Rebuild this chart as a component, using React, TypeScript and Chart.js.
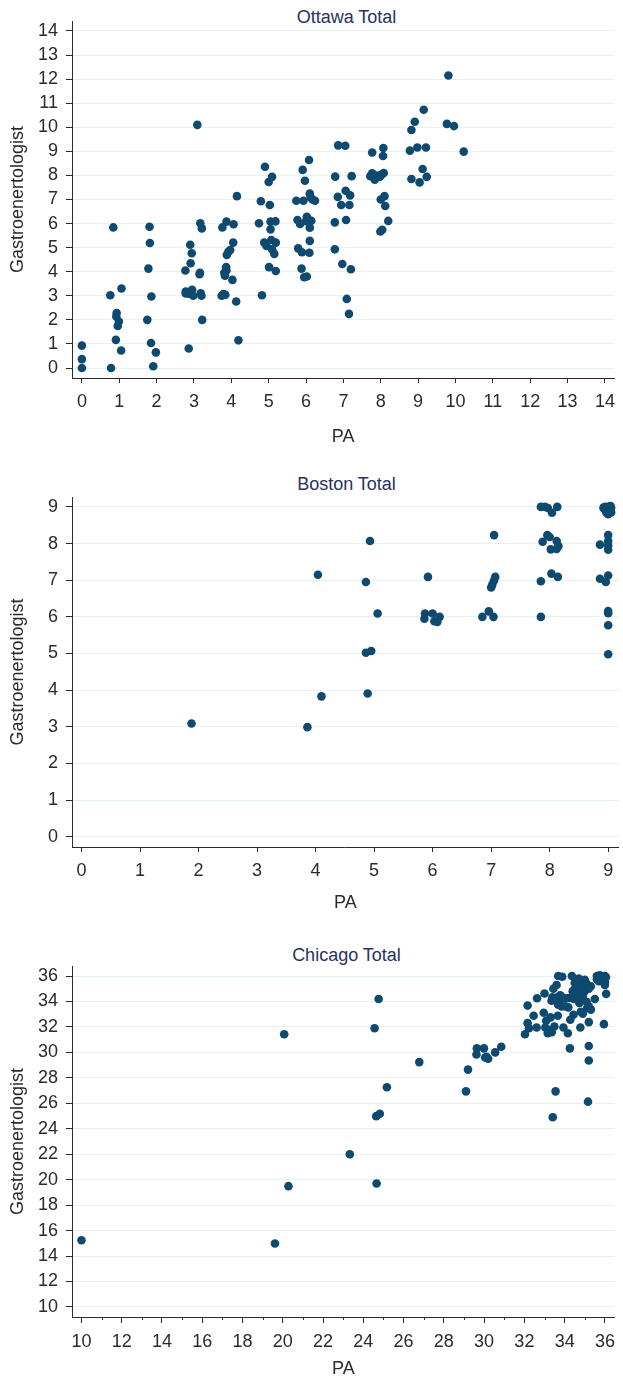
import React, { useEffect, useRef } from 'react';
import { Chart, registerables } from 'chart.js';

Chart.register(...registerables);

// ---------- DATA ----------
const ottawaPA = [
  0, 0, 0,
  0.78, 0.91, 1.05, 0.76, 0.84, 1.06, 0.93, 0.92, 0.99, 0.96,
  1.81, 1.82, 1.78, 1.86, 1.75, 1.85, 1.98, 1.91,
  2.9, 2.94, 2.91, 2.77, 3.16, 3.15, 2.78, 2.78, 2.86, 2.95, 2.98, 3.18, 3.2, 2.86, 3.22, 3.17, 3.21, 3.09,
  3.87, 3.76, 4.06, 4.05, 3.97, 3.92, 3.88, 3.86, 3.87, 3.81, 3.83, 4.03, 3.74, 3.79, 3.84, 4.13, 4.15, 4.19,
  4.82, 4.74, 4.79, 5.03, 5.0, 5.05, 5.18, 5.05, 4.88, 4.94, 5.07, 5.19, 5.09, 5.15, 5.01, 5.19, 4.9, 5.09,
  5.74, 5.93, 5.97, 5.77, 5.84, 6.02, 6.06, 6.1, 6.1, 5.79, 5.89, 6.09, 5.88, 5.95, 6.02, 6.1, 6.17, 6.24, 5.91, 6.08, 6.12, 6.0, 6.14,
  6.77, 6.77, 6.97, 7.2, 7.09, 7.15, 6.85, 6.94, 7.16, 7.07, 7.06, 7.18, 6.86, 7.05, 6.78, 7.22,
  8.0, 8.1, 8.12, 8.2, 7.99, 8.04, 7.77, 8.07, 8.06, 7.77, 7.72, 7.84, 7.9, 7.98, 8.03, 8.08,
  8.78, 8.98, 9.21, 9.12, 8.82, 9.04, 9.23, 8.82, 8.91, 9.15,
  9.81, 9.77, 9.96, 10.22,
];
const ottawaGastro = [
  0.93, 0.37, 0,
  0, 1.17, 0.73, 3.02, 5.84, 3.3, 2.28, 2.14, 1.93, 1.75,
  5.87, 5.19, 4.13, 2.97, 2.0, 1.04, 0.65, 0.07,
  5.12, 4.77, 4.35, 4.05, 3.96, 3.9, 3.1, 3.18, 3.09, 3.25, 3.0, 3.1, 3.0, 0.81, 2.0, 6.01, 5.8, 10.1,
  6.08, 5.84, 5.97, 5.21, 4.9, 4.83, 4.7, 4.19, 4.05, 3.96, 3.83, 3.66, 3.0, 3.07, 3.04, 2.76, 7.14, 1.15,
  3.02, 6.01, 6.93, 6.77, 7.73, 6.08, 6.09, 5.76, 5.21, 5.07, 5.32, 5.21, 4.93, 4.74, 4.19, 4.03, 8.36, 7.94,
  6.95, 6.95, 7.78, 6.15, 5.98, 6.28, 6.17, 5.83, 5.28, 4.97, 4.81, 4.79, 4.13, 3.77, 3.8, 7.25, 7.0, 6.95, 8.23, 8.64, 7.1, 6.1, 6.12,
  6.05, 4.93, 4.32, 4.1, 2.87, 2.25, 7.11, 6.77, 6.77, 6.15, 7.36, 7.17, 9.25, 9.23, 7.95, 7.97,
  7.0, 7.14, 6.73, 6.11, 5.67, 5.74, 8.95, 9.14, 8.81, 8.09, 7.97, 7.82, 8.0, 7.95, 8.05, 8.1,
  9.03, 9.16, 9.16, 8.27, 7.85, 7.71, 7.94, 9.89, 10.23, 10.73,
  12.15, 10.14, 10.05, 8.99,
];

const bostonPA = [
  1.88, 3.86, 4.1, 4.89, 4.86, 4.95, 5.06, 4.04, 4.93, 4.86,
  5.87, 5.86, 6.0, 6.03, 6.08, 6.12, 5.92,
  6.85, 6.96, 7.04, 7.05, 7.07, 7.05, 7.02, 7.0,
  7.85, 7.85, 7.92, 7.97, 8.04, 8.13, 7.96, 8.0, 7.88, 8.12, 8.15, 8.02, 8.12, 7.85, 8.03, 8.14,
  9.0, 9.0, 9.0, 9.0, 9.0, 9.0, 8.86, 9.0, 9.0, 9.0, 8.86, 8.96,
  8.95, 9.0, 9.05, 8.93, 9.02, 8.98, 9.05, 9.0, 8.92, 9.04, 8.97, 9.03,
];
const bostonGastro = [
  3.09, 2.99, 3.83, 3.91, 5.02, 5.07, 6.09, 7.15, 8.07, 6.95,
  6.09, 5.95, 6.09, 5.88, 5.86, 6.0, 7.09,
  6.0, 6.15, 6.0, 8.23, 7.09, 6.99, 6.88, 6.8,
  6.0, 9.0, 9.0, 8.97, 8.84, 9.0, 8.23, 8.18, 8.05, 8.07, 7.93, 7.84, 7.85, 6.97, 7.18, 7.09,
  6.16, 6.1, 5.77, 4.98, 8.23, 8.07, 7.97, 7.95, 7.83, 7.13, 7.04, 6.95,
  9.0, 9.0, 8.98, 8.95, 8.92, 8.88, 8.85, 8.8, 8.98, 9.02, 8.84, 8.9,
];

const chicagoPA = [
  10.0, 19.61, 20.28, 20.07, 23.33, 24.66, 24.64, 24.82, 24.56, 24.76, 25.17, 26.78, 29.1, 29.2,
  29.64, 29.99, 29.62, 30.12, 30.2, 30.05, 30.55, 30.85,
  33.41, 33.55, 35.16, 35.2, 35.2, 34.26, 35.95,
  32.03, 32.23, 32.16, 32.61, 32.16, 32.46, 32.63, 33.0, 32.96, 33.08, 33.16, 33.36, 33.04, 33.44,
  33.6, 33.68, 33.88, 33.39, 33.66, 33.78, 33.68, 33.85, 34.0, 34.21, 34.46, 34.18, 34.05, 33.49,
  33.94, 34.16, 34.44, 34.28, 34.36, 34.5, 34.73, 34.78, 35.2, 35.3, 35.12, 35.2, 35.5, 36.06,
  33.35, 33.6, 33.75, 33.3, 33.25, 34.8, 34.9, 35.09,
  34.5, 34.6, 34.7, 34.8, 34.9, 35.0, 35.1, 34.6, 35.2, 34.9, 35.0, 35.3, 34.4, 34.7,
  35.6, 35.7, 35.8, 35.9, 36.0, 35.95, 35.7, 35.85, 36.0, 35.6, 36.05, 35.75, 36.0,
];
const chicagoGastro = [
  15.24, 14.98, 19.49, 31.43, 22.0, 19.7, 24.99, 25.18, 31.9, 34.2, 27.26, 29.24, 26.94, 28.65,
  30.32, 30.32, 29.84, 29.66, 29.5, 29.6, 30.0, 30.45,
  24.91, 26.94, 26.13, 29.37, 30.5, 30.32, 32.22,
  31.43, 31.9, 32.3, 31.96, 33.68, 32.88, 34.26, 34.63, 33.12, 32.49, 31.5, 31.59, 31.96, 35.0,
  35.3, 36.0, 35.95, 34.34, 32.88, 34.49, 33.75, 33.62, 34.28, 34.28, 34.2, 33.54, 33.62, 32.04,
  31.96, 31.5, 32.96, 32.57, 36.0, 35.47, 33.89, 31.96, 33.62, 33.36, 33.5, 32.38, 34.2, 34.6,
  34.06, 34.32, 33.85, 32.75, 31.75, 33.2, 33.05, 33.98,
  35.0, 35.3, 34.7, 35.5, 35.1, 34.8, 35.4, 34.5, 35.0, 34.4, 35.7, 35.2, 34.8, 35.8,
  36.0, 35.9, 36.0, 35.95, 36.0, 35.7, 35.6, 35.8, 35.5, 35.75, 35.9, 36.05, 35.3,
];

const ottawaXTicks = [0, 1, 2, 3, 4, 5, 6, 7, 8, 9, 10, 11, 12, 13, 14];
const ottawaYTicks = [0, 1, 2, 3, 4, 5, 6, 7, 8, 9, 10, 11, 12, 13, 14];
const bostonXTicks = [0, 1, 2, 3, 4, 5, 6, 7, 8, 9];
const bostonYTicks = [0, 1, 2, 3, 4, 5, 6, 7, 8, 9];
const chicagoXTicks = [10, 12, 14, 16, 18, 20, 22, 24, 26, 28, 30, 32, 34, 36];
const chicagoXMinorTicks = [11, 13, 15, 17, 19, 21, 23, 25, 27, 29, 31, 33, 35];
const chicagoYTicks = [10, 12, 14, 16, 18, 20, 22, 24, 26, 28, 30, 32, 34, 36];

const titles = ['Ottawa Total', 'Boston Total', 'Chicago Total'];
const xAxisTitle = 'PA';
const yAxisTitle = 'Gastroenertologist';

// ---------- STYLE ----------
const FONT = '"Liberation Sans", Arial, Helvetica, sans-serif';
const POINT_COLOR = '#0e4a70';
const GRID_COLOR = '#e7f0f2';
const AXIS_COLOR = '#2b2b2b';
const TEXT_COLOR = '#2b2b2b';
const TITLE_COLOR = '#28335f';

type PanelCfg = {
  title: string;
  xs: number[];
  ys: number[];
  xTicks: number[];
  yTicks: number[];
  minorX: number[];
  xMin: number;
  xMax: number;
  yMin: number;
  yMax: number;
  top: number;
  height: number;
  padTop: number;
  xScaleH: number;
  xTitlePad: number;
  tickLen: number;
  titleCenter: number;
};

const panels: PanelCfg[] = [
  {
    title: titles[0], xs: ottawaPA, ys: ottawaGastro, xTicks: ottawaXTicks, yTicks: ottawaYTicks, minorX: [],
    xMin: -0.265, xMax: 14.25, yMin: -0.415, yMax: 14.415,
    top: 0, height: 450, padTop: 21, xScaleH: 72, xTitlePad: 2.2, tickLen: 5, titleCenter: 16.5,
  },
  {
    title: titles[1], xs: bostonPA, ys: bostonGastro, xTicks: bostonXTicks, yTicks: bostonYTicks, minorX: [],
    xMin: -0.163, xMax: 9.18, yMin: -0.28, yMax: 9.27,
    top: 460, height: 460, padTop: 37, xScaleH: 73, xTitlePad: 6.2, tickLen: 5, titleCenter: 484,
  },
  {
    title: titles[2], xs: chicagoPA, ys: chicagoGastro, xTicks: chicagoXTicks, yTicks: chicagoYTicks, minorX: chicagoXMinorTicks,
    xMin: 9.53, xMax: 36.49, yMin: 9.21, yMax: 36.79,
    top: 930, height: 450, padTop: 36, xScaleH: 63, xTitlePad: 0.2, tickLen: 6, titleCenter: 955,
  },
];

function ScatterPanel({ cfg }: { cfg: PanelCfg }) {
  const ref = useRef<HTMLCanvasElement | null>(null);
  useEffect(() => {
    if (!ref.current) return;
    const minorPlugin = {
      id: 'minorTicks',
      afterDraw(chart: any) {
        if (!cfg.minorX.length) return;
        const sx = chart.scales.x;
        const c = chart.ctx;
        c.save();
        c.strokeStyle = AXIS_COLOR;
        c.lineWidth = 1;
        cfg.minorX.forEach((v) => {
          const px = Math.round(sx.getPixelForValue(v)) + 0.5;
          c.beginPath();
          c.moveTo(px, sx.top);
          c.lineTo(px, sx.top + 3);
          c.stroke();
        });
        c.restore();
      },
    };
    const chart = new Chart(ref.current, {
      type: 'scatter',
      data: {
        datasets: [
          {
            data: cfg.xs.map((x, i) => ({ x, y: cfg.ys[i] })),
            backgroundColor: POINT_COLOR,
            borderColor: POINT_COLOR,
            borderWidth: 0,
            pointRadius: 4.3,
            pointHoverRadius: 4.3,
          },
        ],
      },
      options: {
        responsive: false,
        animation: false,
        events: [],
        layout: { padding: { top: cfg.padTop, right: 2, left: 0, bottom: 0 } },
        plugins: {
          legend: { display: false },
          tooltip: { enabled: false },
          title: { display: false },
        },
        scales: {
          x: {
            type: 'linear',
            min: cfg.xMin,
            max: cfg.xMax,
            afterBuildTicks: (s: any) => {
              s.ticks = cfg.xTicks.map((v) => ({ value: v }));
            },
            afterFit: (s: any) => {
              s.height = cfg.xScaleH;
            },
            grid: {
              drawOnChartArea: false,
              drawTicks: true,
              tickLength: cfg.tickLen,
              tickColor: AXIS_COLOR,
              tickWidth: 1,
            },
            border: { display: true, color: AXIS_COLOR, width: 1 },
            ticks: {
              autoSkip: false,
              maxRotation: 0,
              padding: 8,
              color: TEXT_COLOR,
              font: { family: FONT, size: 18 },
              callback: (v: any) => String(v),
            },
            title: {
              display: true,
              text: xAxisTitle,
              color: TEXT_COLOR,
              font: { family: FONT, size: 18 },
              padding: { top: 0, bottom: cfg.xTitlePad },
            },
          },
          y: {
            type: 'linear',
            min: cfg.yMin,
            max: cfg.yMax,
            afterBuildTicks: (s: any) => {
              s.ticks = cfg.yTicks.map((v) => ({ value: v }));
            },
            afterFit: (s: any) => {
              s.width = 72;
            },
            grid: {
              color: GRID_COLOR,
              lineWidth: 1,
              drawTicks: true,
              tickLength: 6,
              tickColor: AXIS_COLOR,
              tickWidth: 1,
            },
            border: { display: true, color: AXIS_COLOR, width: 1 },
            ticks: {
              autoSkip: false,
              padding: 8,
              color: TEXT_COLOR,
              font: { family: FONT, size: 18 },
              callback: (v: any) => String(v),
            },
            title: {
              display: true,
              text: yAxisTitle,
              color: TEXT_COLOR,
              font: { family: FONT, size: 18 },
              padding: { top: 7.2, bottom: 0 },
            },
          },
        },
      } as any,
      plugins: [minorPlugin],
    });
    return () => chart.destroy();
  }, [cfg]);

  return (
    <>
      <div
        style={{
          position: 'absolute',
          left: 72,
          width: 549,
          top: cfg.titleCenter - 11,
          height: 22,
          lineHeight: '22px',
          textAlign: 'center',
          fontFamily: FONT,
          fontSize: 18,
          color: TITLE_COLOR,
          whiteSpace: 'nowrap',
        }}
      >
        {cfg.title}
      </div>
      <canvas
        ref={ref}
        width={623}
        height={cfg.height}
        style={{ position: 'absolute', left: 0, top: cfg.top, width: 623, height: cfg.height }}
      />
    </>
  );
}

export default function App() {
  return (
    <div
      style={{
        position: 'absolute',
        left: 0,
        top: 0,
        width: 623,
        height: 1377,
        overflow: 'hidden',
        background: '#ffffff',
      }}
    >
      {panels.map((p) => (
        <ScatterPanel key={p.title} cfg={p} />
      ))}
    </div>
  );
}
